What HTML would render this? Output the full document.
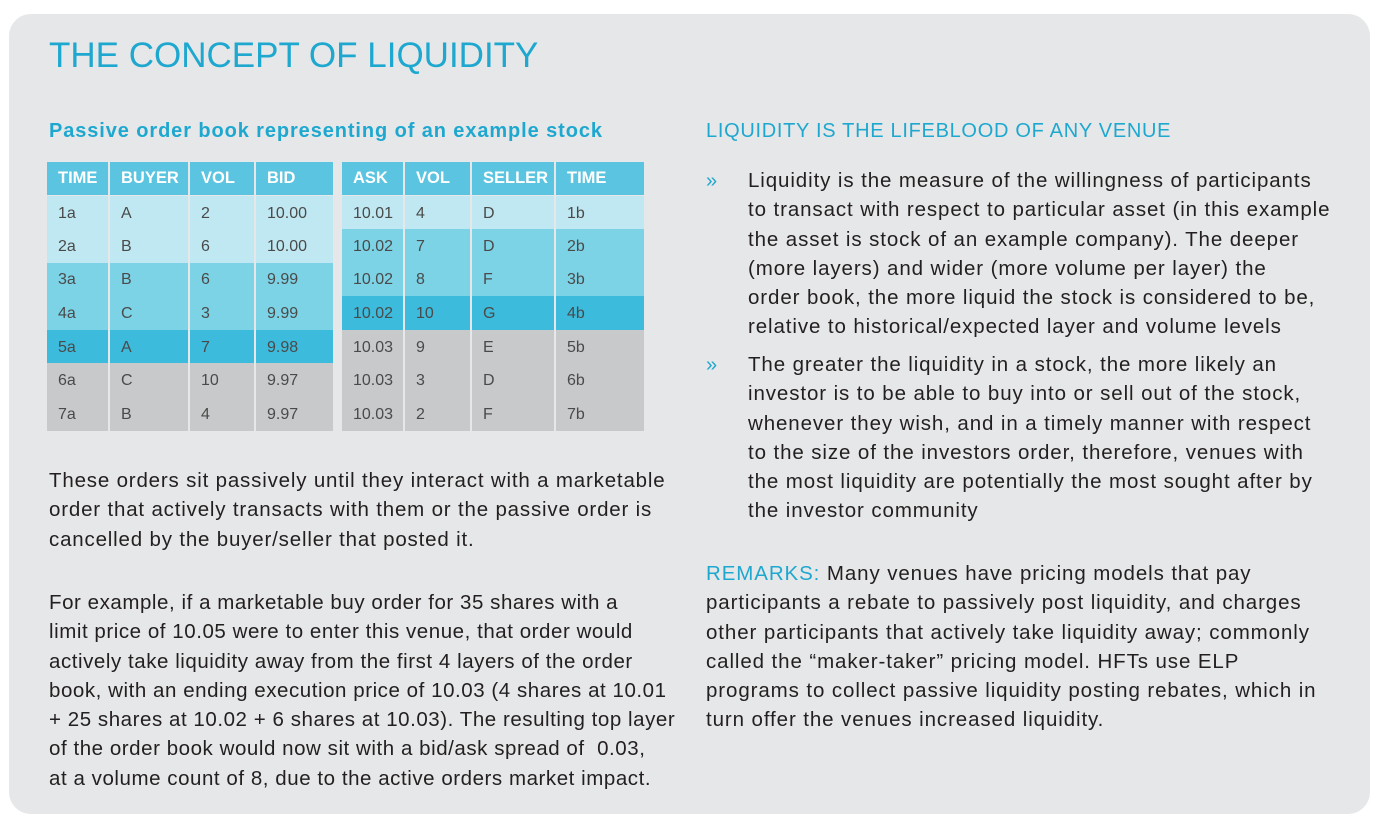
<!DOCTYPE html>
<html><head><meta charset="utf-8"><style>
body{margin:0;width:1381px;height:832px;background:#fff;font-family:"Liberation Sans",sans-serif;position:relative;overflow:hidden}
.card{position:absolute;left:9px;top:14px;width:1361px;height:800px;background:#e6e7e8;border-radius:22px}
.abs{position:absolute;white-space:nowrap}
h1{position:absolute;left:49px;top:36px;margin:0;font-weight:normal;font-size:35px;color:#1fa8cf}
.sub{left:49px;top:120px;font-size:20px;font-weight:bold;color:#1fa8cf;letter-spacing:0.9px}
.sub2{left:706px;top:120px;font-size:20px;color:#1fa8cf;letter-spacing:0.7px}
.txt{font-size:20.5px;line-height:29.3px;color:#231f20;letter-spacing:0.82px}
.r{letter-spacing:0.9px}
.ex{letter-spacing:0.55px}
table{position:absolute;border-collapse:collapse;font-size:16px;color:#4a4a4a}
td{height:33.6px;padding:2px 0 0 11px;border-left:2px solid #e6e7e8;box-sizing:border-box}
td:first-child{border-left:none}
th{height:33px;text-align:left;padding:0 0 0 11px;color:#fff;font-weight:bold;font-size:16.5px;background:#5bc4e0;border-left:2px solid #e6e7e8;border-bottom:1px solid #e6e7e8}
th:first-child{border-left:none}
.l td{background:#c0e8f2}.m td{background:#7dd3e6}.d td{background:#3dbbdc}.g td{background:#c8c9cb}
.bul{color:#1fa8cf;font-size:20px}
.tl{color:#1fa8cf}
</style></head><body>
<div class="card"></div>
<h1>THE CONCEPT OF LIQUIDITY</h1>
<div class="abs sub">Passive order book representing of an example stock</div>
<table style="left:47px;top:162px;width:286px">
<colgroup><col style="width:62px"><col style="width:80px"><col style="width:66px"><col style="width:78px"></colgroup>
<tr><th>TIME</th><th>BUYER</th><th>VOL</th><th>BID</th></tr>
<tr class="l"><td>1a</td><td>A</td><td>2</td><td>10.00</td></tr>
<tr class="l"><td>2a</td><td>B</td><td>6</td><td>10.00</td></tr>
<tr class="m"><td>3a</td><td>B</td><td>6</td><td>9.99</td></tr>
<tr class="m"><td>4a</td><td>C</td><td>3</td><td>9.99</td></tr>
<tr class="d"><td>5a</td><td>A</td><td>7</td><td>9.98</td></tr>
<tr class="g"><td>6a</td><td>C</td><td>10</td><td>9.97</td></tr>
<tr class="g"><td>7a</td><td>B</td><td>4</td><td>9.97</td></tr>
</table>
<table style="left:342px;top:162px;width:302px">
<colgroup><col style="width:62px"><col style="width:67px"><col style="width:84px"><col style="width:89px"></colgroup>
<tr><th>ASK</th><th>VOL</th><th>SELLER</th><th>TIME</th></tr>
<tr class="l"><td>10.01</td><td>4</td><td>D</td><td>1b</td></tr>
<tr class="m"><td>10.02</td><td>7</td><td>D</td><td>2b</td></tr>
<tr class="m"><td>10.02</td><td>8</td><td>F</td><td>3b</td></tr>
<tr class="d"><td>10.02</td><td>10</td><td>G</td><td>4b</td></tr>
<tr class="g"><td>10.03</td><td>9</td><td>E</td><td>5b</td></tr>
<tr class="g"><td>10.03</td><td>3</td><td>D</td><td>6b</td></tr>
<tr class="g"><td>10.03</td><td>2</td><td>F</td><td>7b</td></tr>
</table>
<div class="abs txt" style="left:49px;top:466px">These orders sit passively until they interact with a marketable<br>order that actively transacts with them or the passive order is<br>cancelled by the buyer/seller that posted it.</div>
<div class="abs txt ex" style="left:49px;top:588px">For example, if a marketable buy order for 35 shares with a<br>limit price of 10.05 were to enter this venue, that order would<br>actively take liquidity away from the first 4 layers of the order<br>book, with an ending execution price of 10.03 (4 shares at 10.01<br>+ 25 shares at 10.02 + 6 shares at 10.03). The resulting top layer<br>of the order book would now sit with a bid/ask spread of &nbsp;0.03,<br>at a volume count of 8, due to the active orders market impact.</div>
<div class="abs sub2">LIQUIDITY IS THE LIFEBLOOD OF ANY VENUE</div>
<div class="abs bul" style="left:706px;top:170px">»</div>
<div class="abs txt r" style="left:748px;top:166px">Liquidity is the measure of the willingness of participants<br>to transact with respect to particular asset (in this example<br>the asset is stock of an example company). The deeper<br>(more layers) and wider (more volume per layer) the<br>order book, the more liquid the stock is considered to be,<br>relative to historical/expected layer and volume levels</div>
<div class="abs bul" style="left:706px;top:354px">»</div>
<div class="abs txt r" style="left:748px;top:350px">The greater the liquidity in a stock, the more likely an<br>investor is to be able to buy into or sell out of the stock,<br>whenever they wish, and in a timely manner with respect<br>to the size of the investors order, therefore, venues with<br>the most liquidity are potentially the most sought after by<br>the investor community</div>
<div class="abs txt r" style="left:706px;top:559px"><span class="tl">REMARKS:</span> Many venues have pricing models that pay<br>participants a rebate to passively post liquidity, and charges<br>other participants that actively take liquidity away; commonly<br>called the “maker-taker” pricing model. HFTs use ELP<br>programs to collect passive liquidity posting rebates, which in<br>turn offer the venues increased liquidity.</div>
</body></html>
